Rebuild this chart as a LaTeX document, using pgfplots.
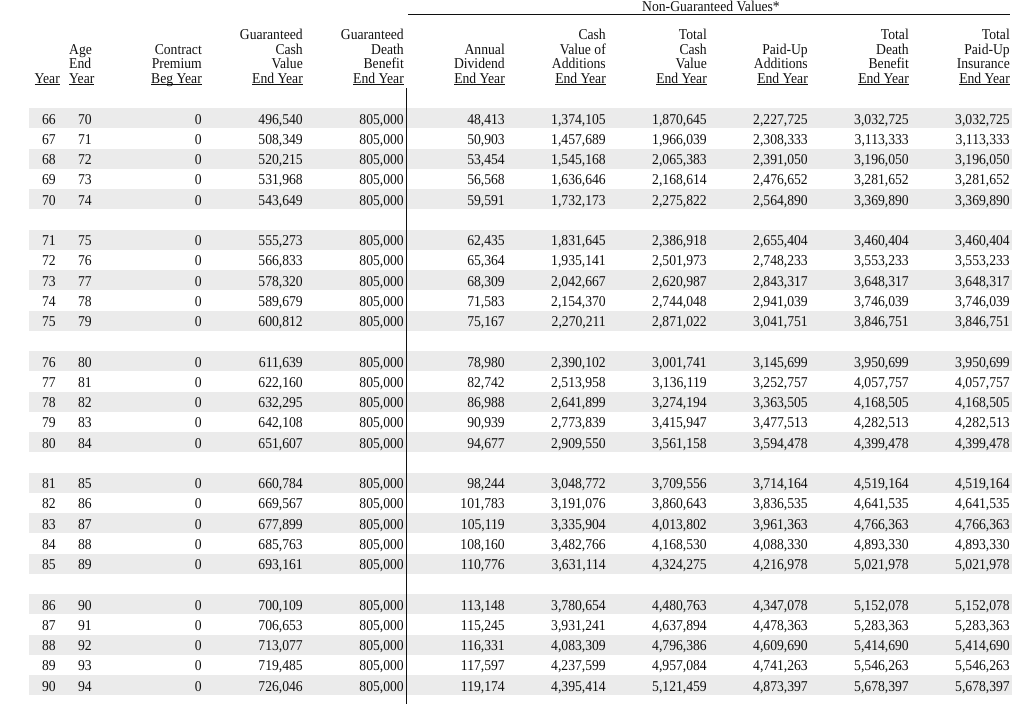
\documentclass[border=0pt]{standalone}
\usepackage{fontspec}
\setmainfont{Liberation Serif}[FakeStretch=0.91]
\usepackage{pgfplots}
\pgfplotsset{compat=1.18}
\usepackage{pgfplotstable}

\definecolor{band}{HTML}{EBEBEB}
\definecolor{ink}{HTML}{101010}

\newcommand\cellfont{\fontsize{15}{14.5}\selectfont}
\newcommand\ul[1]{\leavevmode\setbox0\hbox{#1}\rlap{\rule[-2.4pt]{\wd0}{1.1pt}}\box0}

% row = line of the table (blank line after every 5 years)
\pgfplotstableread{
row year age prem gcv gdb div cva tcv pua tdb tpu
0  66 70 0 496540 805000 48413  1374105 1870645 2227725 3032725 3032725
1  67 71 0 508349 805000 50903  1457689 1966039 2308333 3113333 3113333
2  68 72 0 520215 805000 53454  1545168 2065383 2391050 3196050 3196050
3  69 73 0 531968 805000 56568  1636646 2168614 2476652 3281652 3281652
4  70 74 0 543649 805000 59591  1732173 2275822 2564890 3369890 3369890
6  71 75 0 555273 805000 62435  1831645 2386918 2655404 3460404 3460404
7  72 76 0 566833 805000 65364  1935141 2501973 2748233 3553233 3553233
8  73 77 0 578320 805000 68309  2042667 2620987 2843317 3648317 3648317
9  74 78 0 589679 805000 71583  2154370 2744048 2941039 3746039 3746039
10 75 79 0 600812 805000 75167  2270211 2871022 3041751 3846751 3846751
12 76 80 0 611639 805000 78980  2390102 3001741 3145699 3950699 3950699
13 77 81 0 622160 805000 82742  2513958 3136119 3252757 4057757 4057757
14 78 82 0 632295 805000 86988  2641899 3274194 3363505 4168505 4168505
15 79 83 0 642108 805000 90939  2773839 3415947 3477513 4282513 4282513
16 80 84 0 651607 805000 94677  2909550 3561158 3594478 4399478 4399478
18 81 85 0 660784 805000 98244  3048772 3709556 3714164 4519164 4519164
19 82 86 0 669567 805000 101783 3191076 3860643 3836535 4641535 4641535
20 83 87 0 677899 805000 105119 3335904 4013802 3961363 4766363 4766363
21 84 88 0 685763 805000 108160 3482766 4168530 4088330 4893330 4893330
22 85 89 0 693161 805000 110776 3631114 4324275 4216978 5021978 5021978
24 86 90 0 700109 805000 113148 3780654 4480763 4347078 5152078 5152078
25 87 91 0 706653 805000 115245 3931241 4637894 4478363 5283363 5283363
26 88 92 0 713077 805000 116331 4083309 4796386 4609690 5414690 5414690
27 89 93 0 719485 805000 117597 4237599 4957084 4741263 5546263 5546263
28 90 94 0 726046 805000 119174 4395414 5121459 4873397 5678397 5678397
}\illus

\pgfplotsset{
  cell/.style={only marks, mark=none, point meta=explicit symbolic,
    nodes near coords={\pgfmathprintnumber{\pgfplotspointmeta}},
    nodes near coords style={anchor=base east, inner sep=0pt,
      font=\cellfont, text=ink}},
}
\tikzset{
  hd/.style={anchor=base east, align=right, inner sep=0pt,
    font=\cellfont, text=ink},
}

\begin{document}
\begin{tikzpicture}
\begin{axis}[
  width=1021pt, height=704pt, scale only axis,
  xmin=0, xmax=1021, ymin=0, ymax=704, y dir=reverse,
  hide axis, clip=false,
  /pgf/number format/.cd, fixed, precision=0, 1000 sep={,},
  assume math mode=true,
]
\pgfplotsinvokeforeach{0,2,...,28}{
  \fill[band] (axis cs:29,{108.3+#1*20.25}) rectangle (axis cs:1012,{128.3+#1*20.25});
}
\addplot[cell] table[x expr=56,   y expr=124+\thisrow{row}*20.25, meta=year] {\illus};
\addplot[cell] table[x expr=92,   y expr=124+\thisrow{row}*20.25, meta=age]  {\illus};
\addplot[cell] table[x expr=202,  y expr=124+\thisrow{row}*20.25, meta=prem] {\illus};
\addplot[cell] table[x expr=303,  y expr=124+\thisrow{row}*20.25, meta=gcv]  {\illus};
\addplot[cell] table[x expr=404,  y expr=124+\thisrow{row}*20.25, meta=gdb]  {\illus};
\addplot[cell] table[x expr=505,  y expr=124+\thisrow{row}*20.25, meta=div]  {\illus};
\addplot[cell] table[x expr=606,  y expr=124+\thisrow{row}*20.25, meta=cva]  {\illus};
\addplot[cell] table[x expr=707,  y expr=124+\thisrow{row}*20.25, meta=tcv]  {\illus};
\addplot[cell] table[x expr=808,  y expr=124+\thisrow{row}*20.25, meta=pua]  {\illus};
\addplot[cell] table[x expr=909,  y expr=124+\thisrow{row}*20.25, meta=tdb]  {\illus};
\addplot[cell] table[x expr=1010, y expr=124+\thisrow{row}*20.25, meta=tpu]  {\illus};

% headers
\node[hd] at (axis cs:60,83) {\ul{Year}};
\node[hd, anchor=base west, align=left] at (axis cs:69,83) {Age\\End\\\ul{Year}};
\node[hd] at (axis cs:202,83) {Contract\\Premium\\\ul{Beg Year}};
\node[hd] at (axis cs:303,83) {Guaranteed\\Cash\\Value\\\ul{End Year}};
\node[hd] at (axis cs:404,83) {Guaranteed\\Death\\Benefit\\\ul{End Year}};
\node[hd] at (axis cs:505,83) {Annual\\Dividend\\\ul{End Year}};
\node[hd] at (axis cs:606,83) {Cash\\Value of\\Additions\\\ul{End Year}};
\node[hd] at (axis cs:707,83) {Total\\Cash\\Value\\\ul{End Year}};
\node[hd] at (axis cs:808,83) {Paid-Up\\Additions\\\ul{End Year}};
\node[hd] at (axis cs:909,83) {Total\\Death\\Benefit\\\ul{End Year}};
\node[hd] at (axis cs:1010,83) {Total\\Paid-Up\\Insurance\\\ul{End Year}};

\node[hd, anchor=base] at (axis cs:711,12) {Non-Guaranteed Values*};
\draw[ink, line width=1.3pt] (axis cs:408,14.6) -- (axis cs:1010,14.6);
\draw[ink, line width=1.5pt] (axis cs:406.5,88) -- (axis cs:406.5,704);
\end{axis}
\pgfresetboundingbox
\path (current axis.south west) rectangle (current axis.north east);
\end{tikzpicture}
\end{document}
